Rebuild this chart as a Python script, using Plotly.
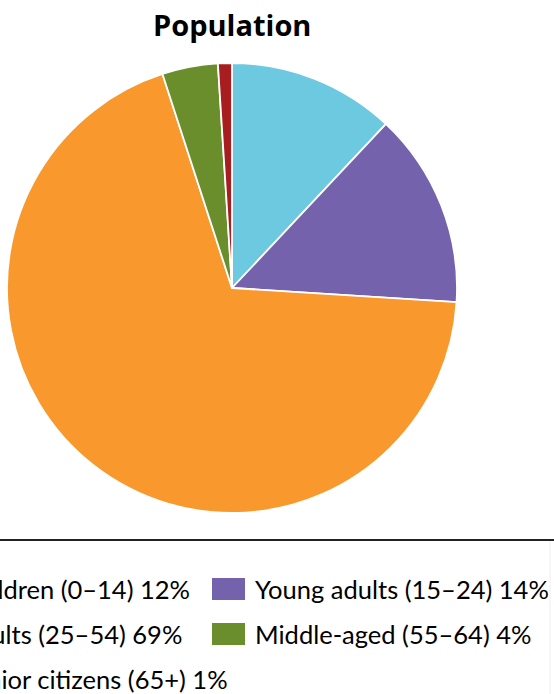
import plotly.graph_objects as go

# Data
labels = ["Children (0–14)", "Young adults (15–24)", "Adults (25–54)",
          "Middle-aged (55–64)", "Senior citizens (65+)"]
values = [12, 14, 69, 4, 1]
colors = ["#6DC9E0", "#7462AC", "#F8982D", "#6A8E2C", "#A81D1F"]
title_text = "Population"

W, H = 554, 694
FONT = "Lato"

def px(x):
    return x / W

def py(y):
    return 1 - y / H

# pie geometry (pixels)
cx, cy, r = 232, 288, 225

fig = go.Figure(go.Pie(
    labels=labels,
    values=values,
    marker=dict(colors=colors, line=dict(color="white", width=1.8)),
    sort=False,
    direction="clockwise",
    rotation=0,
    textinfo="none",
    hoverinfo="label+percent",
    showlegend=False,
    domain=dict(x=[px(cx - r), px(cx + r)], y=[py(cy + r), py(cy - r)]),
))

annotations = [dict(
    text="<b>" + title_text + "</b>", x=px(cx), y=py(25), xref="paper", yref="paper",
    xanchor="center", yanchor="middle", showarrow=False,
    font=dict(family="Open Sans", size=29, color="#000000"))]
shapes = []

# legend line
shapes.append(dict(type="line", xref="paper", yref="paper",
                   x0=0, x1=1, y0=py(540), y1=py(540),
                   line=dict(color="#222222", width=2)))
shapes.append(dict(type="line", xref="paper", yref="paper",
                   x0=px(550), x1=px(550), y0=py(541), y1=0,
                   line=dict(color="#EEEEEE", width=1)))

# legend layout: 2 columns, 3 rows
col_text_x = [-42, 253]
row_y = [589, 634, 679]
sw_w, sw_h, sw_gap = 33, 22, 8
for i, (lab, val, col) in enumerate(zip(labels, values, colors)):
    c = i % 2
    rr = i // 2
    tx = col_text_x[c]
    yc = row_y[rr]
    shapes.append(dict(type="rect", xref="paper", yref="paper",
                       x0=px(tx - sw_gap - sw_w), x1=px(tx - sw_gap),
                       y0=py(yc + sw_h / 2), y1=py(yc - sw_h / 2),
                       fillcolor=col, line=dict(width=0)))
    annotations.append(dict(
        text=f"{lab} {val}%", x=px(tx), y=py(yc), xref="paper", yref="paper",
        xanchor="left", yanchor="middle", showarrow=False,
        font=dict(family=FONT, size=25.5, color="#000000")))

fig.update_layout(
    width=W, height=H,
    margin=dict(l=0, r=0, t=0, b=0, pad=0),
    paper_bgcolor="white", plot_bgcolor="white",
    annotations=annotations, shapes=shapes,
)

fig.write_html("out.html")
